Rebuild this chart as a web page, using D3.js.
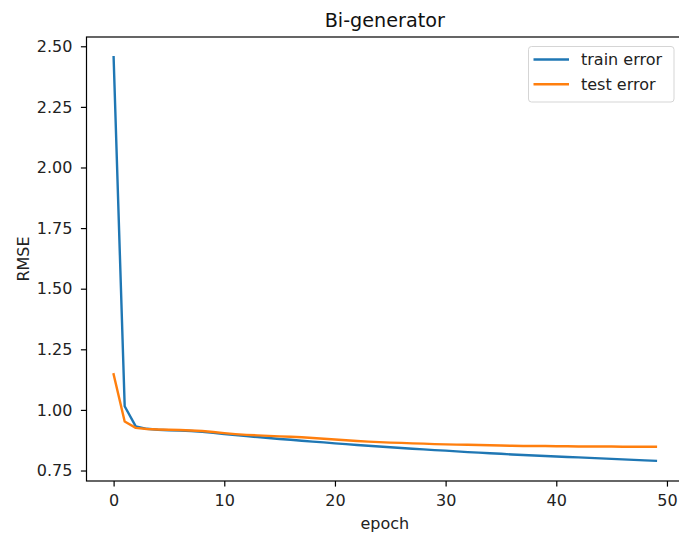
<!DOCTYPE html>
<html>
<head>
<meta charset="utf-8">
<script src="https://cdn.jsdelivr.net/npm/d3@7"></script>
<style>
  body { margin: 0; background: #fff; }
  svg { display: block; font-family: "DejaVu Sans", sans-serif; }
</style>
</head>
<body>
<svg id="chart" width="679" height="537"></svg>
<script>
const epochs = d3.range(0, 50);
const trainError = [2.455, 1.015, 0.932, 0.922, 0.918, 0.916, 0.915, 0.913, 0.910, 0.906,
  0.900, 0.896, 0.892, 0.888, 0.884, 0.880, 0.877, 0.873, 0.869, 0.866,
  0.862, 0.859, 0.855, 0.852, 0.849, 0.846, 0.843, 0.840, 0.837, 0.834,
  0.832, 0.829, 0.826, 0.824, 0.821, 0.819, 0.816, 0.814, 0.812, 0.810,
  0.808, 0.806, 0.804, 0.802, 0.800, 0.798, 0.796, 0.794, 0.792, 0.790];
const testError = [1.147, 0.952, 0.926, 0.921, 0.919, 0.918, 0.917, 0.915, 0.913, 0.909,
  0.904, 0.900, 0.897, 0.895, 0.893, 0.891, 0.889, 0.887, 0.884, 0.881,
  0.878, 0.875, 0.872, 0.869, 0.867, 0.865, 0.864, 0.862, 0.861, 0.859,
  0.858, 0.857, 0.856, 0.855, 0.854, 0.853, 0.852, 0.851, 0.851, 0.851,
  0.850, 0.850, 0.849, 0.849, 0.849, 0.849, 0.848, 0.848, 0.848, 0.848];
const xTicks = [0, 10, 20, 30, 40, 50];
const yTicks = [0.75, 1.00, 1.25, 1.50, 1.75, 2.00, 2.25, 2.50];
const seriesNames = ["train error", "test error"];
const seriesColors = ["#1f77b4", "#ff7f0e"];
const titleText = "Bi-generator";
const xLabel = "epoch";
const yLabel = "RMSE";

const svg = d3.select("#chart");
const mLeft = 86.5, mRight = 683, mTop = 37, mBottom = 481;

const xMin = d3.min(epochs), xMax = d3.max(epochs);
const xPad = (xMax - xMin) * 0.05;
const x = d3.scaleLinear().domain([xMin - xPad, xMax + xPad]).range([mLeft, mRight]);

const allY = trainError.concat(testError);
const yMin = d3.min(allY), yMax = d3.max(allY);
const yPad = (yMax - yMin) * 0.05;
const y = d3.scaleLinear().domain([yMin - yPad, yMax + yPad]).range([mBottom, mTop]);

const fontSize = 16;

// axes
const xAxis = d3.axisBottom(x).tickValues(xTicks).tickFormat(d3.format("d")).tickSize(5.6).tickPadding(8.3);
const yAxis = d3.axisLeft(y).tickValues(yTicks).tickFormat(d3.format(".2f")).tickSize(5.6).tickPadding(8.5);

const gx = svg.append("g").attr("transform", `translate(0,${mBottom})`).call(xAxis);
const gy = svg.append("g").attr("transform", `translate(${mLeft},0)`).call(yAxis);
[gx, gy].forEach(g => {
  g.select(".domain").remove();
  g.selectAll(".tick line").attr("stroke", "#000").attr("stroke-width", 1.2);
  g.selectAll(".tick text").attr("fill", "#222").style("font-size", fontSize + "px").style("font-family", "DejaVu Sans");
});

// lines
const line = d3.line().x((d, i) => x(epochs[i])).y(d => y(d));
[trainError, testError].forEach((s, k) => {
  svg.append("path").datum(s)
    .attr("fill", "none")
    .attr("stroke", seriesColors[k])
    .attr("stroke-width", 2.4)
    .attr("stroke-linejoin", "round")
    .attr("stroke-linecap", "square")
    .attr("d", line);
});

// spines
svg.append("rect").attr("x", mLeft).attr("y", mTop).attr("width", mRight - mLeft).attr("height", mBottom - mTop)
  .attr("fill", "none").attr("stroke", "#000").attr("stroke-width", 1.2);

// title & labels
svg.append("text").attr("x", (mLeft + mRight) / 2).attr("y", 27)
  .attr("text-anchor", "middle").style("font-size", "19.2px").attr("fill", "#111").text(titleText);
svg.append("text").attr("x", (mLeft + mRight) / 2).attr("y", 529)
  .attr("text-anchor", "middle").style("font-size", fontSize + "px").attr("fill", "#222").text(xLabel);
svg.append("text").attr("transform", `translate(28.5,${(mTop + mBottom) / 2}) rotate(-90)`)
  .attr("text-anchor", "middle").style("font-size", fontSize + "px").attr("fill", "#222").text(yLabel);

// legend
const lg = svg.append("g");
lg.append("rect").attr("x", 528.5).attr("y", 46.5).attr("width", 145.5).attr("height", 55.5)
  .attr("rx", 3).attr("fill", "#fff").attr("fill-opacity", 0.8).attr("stroke", "#d5d5d5").attr("stroke-width", 1);
seriesNames.forEach((n, k) => {
  const yy = 59.5 + k * 24.8;
  lg.append("line").attr("x1", 533.5).attr("x2", 569).attr("y1", yy).attr("y2", yy)
    .attr("stroke", seriesColors[k]).attr("stroke-width", 2.4);
  lg.append("text").attr("x", 581).attr("y", yy + 5.7).style("font-size", fontSize + "px").attr("fill", "#222").text(n);
});
</script>
</body>
</html>
